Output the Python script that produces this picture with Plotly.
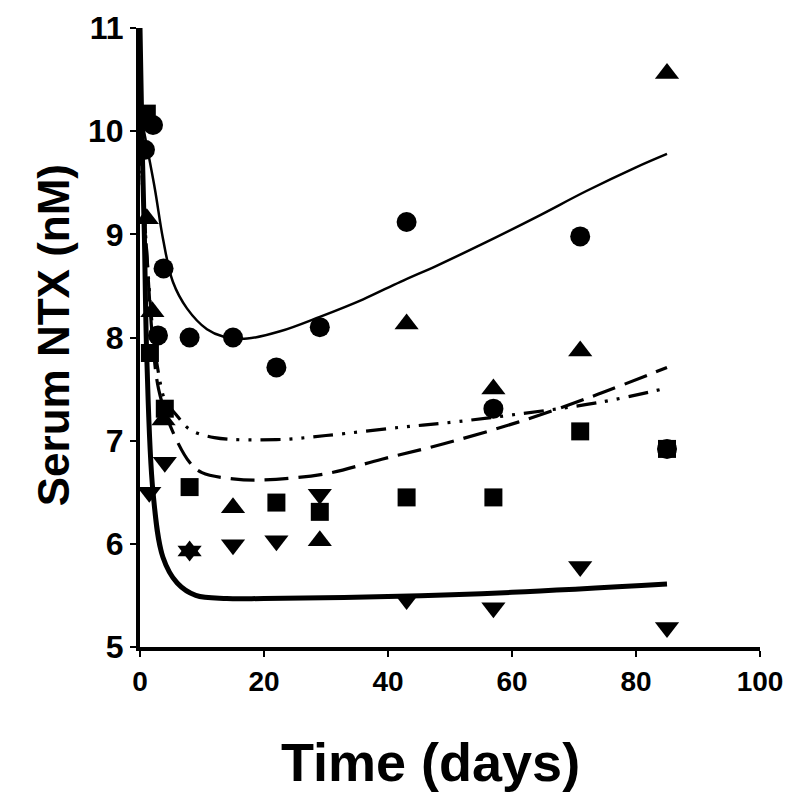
import plotly.graph_objects as go

# ---- data ----
circle_days = [0.8, 2.1, 2.9, 3.8, 8, 15, 22, 29, 43, 57, 71, 85]
circle_vals = [9.82, 10.06, 8.02, 8.67, 8.0, 8.0, 7.71, 8.1, 9.12, 7.31, 8.98, 6.92]

square_days = [1.1, 1.6, 4, 8, 22, 29, 43, 57, 71, 85]
square_vals = [10.17, 7.85, 7.31, 6.55, 6.4, 6.31, 6.45, 6.45, 7.09, 6.92]

tri_up_days = [1.1, 2.0, 3.8, 8, 15, 29, 43, 57, 71, 85]
tri_up_vals = [9.15, 8.25, 7.2, 5.93, 6.35, 6.03, 8.13, 7.5, 7.87, 10.56]

tri_down_days = [1.5, 4, 8, 15, 22, 29, 43, 57, 71, 85]
tri_down_vals = [6.5, 6.79, 5.93, 5.99, 6.03, 6.48, 5.46, 5.38, 5.78, 5.19]

# fitted curves
fit_thin_days = [0, 0.8, 2.4, 3.7, 5.3, 7.6, 10.8, 13.4, 17.3, 22.6, 29, 36, 42, 48, 55, 64, 72, 80, 85]
fit_thin_vals = [10.2, 9.95, 9.44, 8.96, 8.54, 8.28, 8.08, 8.01, 7.99, 8.06, 8.2, 8.37, 8.54, 8.7, 8.9, 9.17, 9.42, 9.65, 9.78]

fit_dashdot_days = [0, 1, 2, 3, 4, 6, 8, 12, 22, 30, 42, 49, 60, 74, 85]
fit_dashdot_vals = [9.9, 8.9, 8.1, 7.65, 7.4, 7.24, 7.11, 7.03, 7.01, 7.05, 7.13, 7.17, 7.25, 7.37, 7.51]

fit_dash_days = [0, 1, 2, 3, 4.9, 8, 10, 15, 20, 30, 39, 49, 61, 73, 85]
fit_dash_vals = [9.9, 8.9, 8.0, 7.5, 7.14, 6.79, 6.69, 6.63, 6.62, 6.68, 6.82, 6.97, 7.18, 7.43, 7.71]

fit_thick_days = [0, 0.3, 0.7, 1.1, 2.1, 3.7, 6, 9, 14, 20, 40, 60, 85]
fit_thick_vals = [11.0, 10.0, 9.0, 7.8, 6.5, 5.87, 5.62, 5.5, 5.47, 5.47, 5.49, 5.53, 5.61]

x_ticks = [0, 20, 40, 60, 80, 100]
y_ticks = [5, 6, 7, 8, 9, 10, 11]

fig = go.Figure()

def curve(xs, ys, width, dash):
    fig.add_trace(go.Scatter(x=xs, y=ys, mode="lines",
                             line=dict(color="black", width=width, dash=dash, shape="spline", smoothing=1.0),
                             showlegend=False, hoverinfo="skip"))

curve(fit_thin_days, fit_thin_vals, 2.5, "solid")
curve(fit_dashdot_days, fit_dashdot_vals, 3.2, "20px,9px,3px,9px,3px,9px")
curve(fit_dash_days, fit_dash_vals, 3.2, "24px,10px")
curve(fit_thick_days, fit_thick_vals, 5, "solid")

def pts(xs, ys, symbol, size):
    fig.add_trace(go.Scatter(x=xs, y=ys, mode="markers",
                             marker=dict(symbol=symbol, size=size, color="black", line=dict(width=0)),
                             showlegend=False))

pts(circle_days, circle_vals, "circle", 20)
pts(square_days, square_vals, "square", 18)
pts(tri_up_days, tri_up_vals, "triangle-up", 21)
pts(tri_down_days, tri_down_vals, "triangle-down", 21)

font_family = "Liberation Sans, Arial, sans-serif"

fig.update_layout(
    width=800, height=804,
    margin=dict(l=132, r=48, t=20, b=165),
    plot_bgcolor="white", paper_bgcolor="white",
    font=dict(family=font_family, color="black"),
    xaxis=dict(range=[0, 100], tickvals=x_ticks, showgrid=False, zeroline=False,
               showline=True, linecolor="black", linewidth=4, automargin=False,
               ticks="outside", ticklen=6, tickwidth=2, tickcolor="black",
               tickfont=dict(size=28, family=font_family, weight="bold")),
    yaxis=dict(range=[5, 11], tickvals=y_ticks, showgrid=False, zeroline=False,
               showline=True, linecolor="black", linewidth=4, automargin=False,
               ticks="outside", ticklen=6, tickwidth=2, tickcolor="black",
               tickfont=dict(size=32, family=font_family, weight="bold")),
    annotations=[
        dict(text="Time (days)", xref="paper", yref="paper", x=0.468, y=-0.186,
             xanchor="center", yanchor="middle", showarrow=False,
             font=dict(size=54, family=font_family, weight="bold")),
        dict(text="Serum NTX (nM)", xref="paper", yref="paper", x=-0.140, y=0.504,
             xanchor="center", yanchor="middle", showarrow=False, textangle=-90,
             font=dict(size=44, family=font_family, weight="bold")),
    ],
)

fig.write_html("out.html")
